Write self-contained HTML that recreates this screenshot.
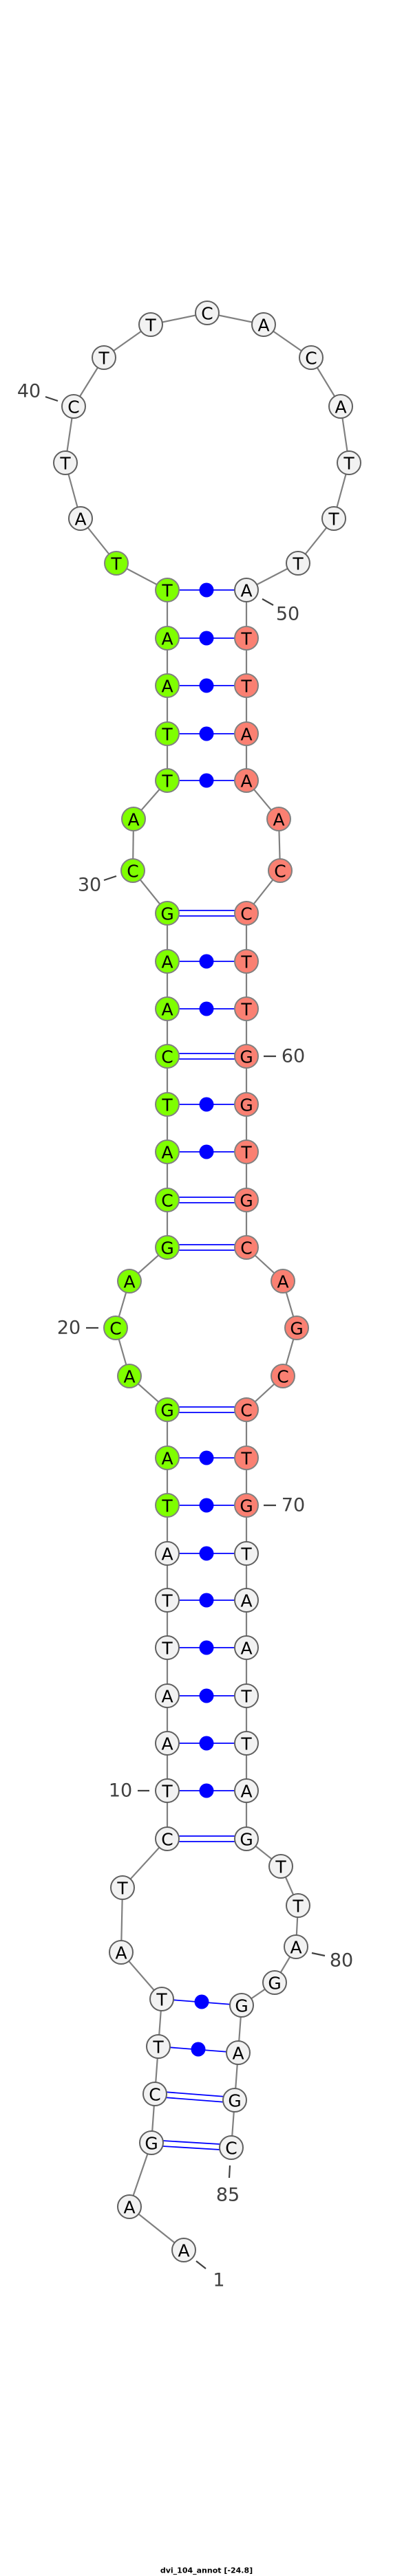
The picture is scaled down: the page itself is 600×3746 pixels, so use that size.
<!DOCTYPE html>
<html><head><meta charset="utf-8"><style>
html,body{margin:0;padding:0;background:#fff}
svg{display:block}
.n text{font-family:"DejaVu Sans","Liberation Sans",sans-serif;font-size:25px;text-anchor:middle;dominant-baseline:central;fill:#000}
.l{font-family:"DejaVu Sans","Liberation Sans",sans-serif;font-size:27px;fill:#404040;text-anchor:middle;dominant-baseline:central}
</style></head><body>
<svg width="600" height="3746" viewBox="0 0 600 3746" xmlns="http://www.w3.org/2000/svg">
<polyline fill="none" stroke="#808080" stroke-width="2.2" points="267,3272 188,3209 220,3116 225,3045 230,2976 235,2907 176,2839 178,2745 243,2674 243,2604 243,2535 243,2466 243,2396 243,2327 243,2259 243,2189 243,2120 243,2050 188,2001 168,1931 188,1863 243,1814 243,1745 243,1675 243,1606 243,1536 243,1467 243,1398 243,1328 193,1266 194,1191 243,1135 243,1067 243,997 243,928 243,858 169,819 117,754 95,673 107,591 151,520 219,472 301,455 383,472 452,520 495,591 507,673 485,754 433,819 358,858 358,928 358,997 358,1067 358,1135 405,1191 407,1266 358,1328 358,1398 358,1467 358,1536 358,1606 358,1675 358,1745 358,1814 411,1863 431,1931 411,2001 358,2050 358,2120 358,2189 358,2259 358,2327 358,2396 358,2466 358,2535 358,2604 358,2674 408,2714 433,2771 430,2831 399,2883 351,2916 346,2985 341,3054 336,3123"/>
<g stroke="#0000ff" stroke-width="1.8" fill="#0000ff">
<line x1="243" y1="858" x2="358" y2="858"/><circle cx="300" cy="858" r="10.5" stroke="none"/>
<line x1="243" y1="928" x2="358" y2="928"/><circle cx="300" cy="928" r="10.5" stroke="none"/>
<line x1="243" y1="997" x2="358" y2="997"/><circle cx="300" cy="997" r="10.5" stroke="none"/>
<line x1="243" y1="1067" x2="358" y2="1067"/><circle cx="300" cy="1067" r="10.5" stroke="none"/>
<line x1="243" y1="1135" x2="358" y2="1135"/><circle cx="300" cy="1135" r="10.5" stroke="none"/>
<line x1="243" y1="1324" x2="358" y2="1324"/><line x1="243" y1="1332" x2="358" y2="1332"/>
<line x1="243" y1="1398" x2="358" y2="1398"/><circle cx="300" cy="1398" r="10.5" stroke="none"/>
<line x1="243" y1="1467" x2="358" y2="1467"/><circle cx="300" cy="1467" r="10.5" stroke="none"/>
<line x1="243" y1="1532" x2="358" y2="1532"/><line x1="243" y1="1540" x2="358" y2="1540"/>
<line x1="243" y1="1606" x2="358" y2="1606"/><circle cx="300" cy="1606" r="10.5" stroke="none"/>
<line x1="243" y1="1675" x2="358" y2="1675"/><circle cx="300" cy="1675" r="10.5" stroke="none"/>
<line x1="243" y1="1741" x2="358" y2="1741"/><line x1="243" y1="1749" x2="358" y2="1749"/>
<line x1="243" y1="1810" x2="358" y2="1810"/><line x1="243" y1="1818" x2="358" y2="1818"/>
<line x1="243" y1="2046" x2="358" y2="2046"/><line x1="243" y1="2054" x2="358" y2="2054"/>
<line x1="243" y1="2120" x2="358" y2="2120"/><circle cx="300" cy="2120" r="10.5" stroke="none"/>
<line x1="243" y1="2189" x2="358" y2="2189"/><circle cx="300" cy="2189" r="10.5" stroke="none"/>
<line x1="243" y1="2259" x2="358" y2="2259"/><circle cx="300" cy="2259" r="10.5" stroke="none"/>
<line x1="243" y1="2327" x2="358" y2="2327"/><circle cx="300" cy="2327" r="10.5" stroke="none"/>
<line x1="243" y1="2396" x2="358" y2="2396"/><circle cx="300" cy="2396" r="10.5" stroke="none"/>
<line x1="243" y1="2466" x2="358" y2="2466"/><circle cx="300" cy="2466" r="10.5" stroke="none"/>
<line x1="243" y1="2535" x2="358" y2="2535"/><circle cx="300" cy="2535" r="10.5" stroke="none"/>
<line x1="243" y1="2604" x2="358" y2="2604"/><circle cx="300" cy="2604" r="10.5" stroke="none"/>
<line x1="243" y1="2670" x2="358" y2="2670"/><line x1="243" y1="2678" x2="358" y2="2678"/>
<line x1="235" y1="2907" x2="351" y2="2916"/><circle cx="293" cy="2911" r="10.5" stroke="none"/>
<line x1="230" y1="2976" x2="346" y2="2985"/><circle cx="288" cy="2980" r="10.5" stroke="none"/>
<line x1="225" y1="3041" x2="341" y2="3050"/><line x1="225" y1="3049" x2="341" y2="3058"/>
<line x1="220" y1="3112" x2="336" y2="3119"/><line x1="220" y1="3120" x2="336" y2="3127"/>
</g>
<g stroke="#404040" stroke-width="2.2">
<line x1="66" y1="577" x2="84" y2="583"/>
<line x1="381" y1="871" x2="397" y2="880"/>
<line x1="151" y1="1280" x2="169" y2="1274"/>
<line x1="383" y1="1536" x2="401" y2="1536"/>
<line x1="125" y1="1931" x2="143" y2="1931"/>
<line x1="383" y1="2189" x2="401" y2="2189"/>
<line x1="200" y1="2604" x2="217" y2="2604"/>
<line x1="453" y1="2840" x2="472" y2="2844"/>
<line x1="334" y1="3149" x2="333" y2="3167"/>
<line x1="285" y1="3288" x2="299" y2="3299"/>
</g>
<text class="l" x="42" y="569">40</text>
<text class="l" x="418" y="893">50</text>
<text class="l" x="130" y="1287">30</text>
<text class="l" x="426" y="1536">60</text>
<text class="l" x="100" y="1931">20</text>
<text class="l" x="426" y="2189">70</text>
<text class="l" x="175" y="2604">10</text>
<text class="l" x="496" y="2851">80</text>
<text class="l" x="331" y="3192">85</text>
<text class="l" x="318" y="3316">1</text>
<g class="n" stroke-width="2">
<g fill="#f2f2f2" stroke="#606060">
<circle cx="267" cy="3272" r="17"/><circle cx="188" cy="3209" r="17"/><circle cx="220" cy="3116" r="17"/><circle cx="225" cy="3045" r="17"/><circle cx="230" cy="2976" r="17"/><circle cx="235" cy="2907" r="17"/><circle cx="176" cy="2839" r="17"/><circle cx="178" cy="2745" r="17"/><circle cx="243" cy="2674" r="17"/><circle cx="243" cy="2604" r="17"/><circle cx="243" cy="2535" r="17"/><circle cx="243" cy="2466" r="17"/><circle cx="243" cy="2396" r="17"/><circle cx="243" cy="2327" r="17"/><circle cx="243" cy="2259" r="17"/>
<circle cx="117" cy="754" r="17"/><circle cx="95" cy="673" r="17"/><circle cx="107" cy="591" r="17"/><circle cx="151" cy="520" r="17"/><circle cx="219" cy="472" r="17"/><circle cx="301" cy="455" r="17"/><circle cx="383" cy="472" r="17"/><circle cx="452" cy="520" r="17"/><circle cx="495" cy="591" r="17"/><circle cx="507" cy="673" r="17"/><circle cx="485" cy="754" r="17"/><circle cx="433" cy="819" r="17"/><circle cx="358" cy="858" r="17"/>
<circle cx="358" cy="2259" r="17"/><circle cx="358" cy="2327" r="17"/><circle cx="358" cy="2396" r="17"/><circle cx="358" cy="2466" r="17"/><circle cx="358" cy="2535" r="17"/><circle cx="358" cy="2604" r="17"/><circle cx="358" cy="2674" r="17"/><circle cx="408" cy="2714" r="17"/><circle cx="433" cy="2771" r="17"/><circle cx="430" cy="2831" r="17"/><circle cx="399" cy="2883" r="17"/><circle cx="351" cy="2916" r="17"/><circle cx="346" cy="2985" r="17"/><circle cx="341" cy="3054" r="17"/><circle cx="336" cy="3123" r="17"/>
</g>
<g fill="#7fff00" stroke="#808080">
<circle cx="243" cy="2189" r="17"/><circle cx="243" cy="2120" r="17"/><circle cx="243" cy="2050" r="17"/><circle cx="188" cy="2001" r="17"/><circle cx="168" cy="1931" r="17"/><circle cx="188" cy="1863" r="17"/><circle cx="243" cy="1814" r="17"/><circle cx="243" cy="1745" r="17"/><circle cx="243" cy="1675" r="17"/><circle cx="243" cy="1606" r="17"/><circle cx="243" cy="1536" r="17"/><circle cx="243" cy="1467" r="17"/><circle cx="243" cy="1398" r="17"/><circle cx="243" cy="1328" r="17"/><circle cx="193" cy="1266" r="17"/><circle cx="194" cy="1191" r="17"/><circle cx="243" cy="1135" r="17"/><circle cx="243" cy="1067" r="17"/><circle cx="243" cy="997" r="17"/><circle cx="243" cy="928" r="17"/><circle cx="243" cy="858" r="17"/><circle cx="169" cy="819" r="17"/>
</g>
<g fill="#fa8072" stroke="#808080">
<circle cx="358" cy="928" r="17"/><circle cx="358" cy="997" r="17"/><circle cx="358" cy="1067" r="17"/><circle cx="358" cy="1135" r="17"/><circle cx="405" cy="1191" r="17"/><circle cx="407" cy="1266" r="17"/><circle cx="358" cy="1328" r="17"/><circle cx="358" cy="1398" r="17"/><circle cx="358" cy="1467" r="17"/><circle cx="358" cy="1536" r="17"/><circle cx="358" cy="1606" r="17"/><circle cx="358" cy="1675" r="17"/><circle cx="358" cy="1745" r="17"/><circle cx="358" cy="1814" r="17"/><circle cx="411" cy="1863" r="17"/><circle cx="431" cy="1931" r="17"/><circle cx="411" cy="2001" r="17"/><circle cx="358" cy="2050" r="17"/><circle cx="358" cy="2120" r="17"/><circle cx="358" cy="2189" r="17"/>
</g>
<text x="267" y="3273">A</text><text x="188" y="3210">A</text><text x="220" y="3117">G</text><text x="225" y="3046">C</text><text x="230" y="2977">T</text><text x="235" y="2908">T</text><text x="176" y="2840">A</text><text x="178" y="2746">T</text><text x="243" y="2675">C</text><text x="243" y="2605">T</text><text x="243" y="2536">A</text><text x="243" y="2467">A</text><text x="243" y="2397">T</text><text x="243" y="2328">T</text><text x="243" y="2260">A</text><text x="243" y="2190">T</text><text x="243" y="2121">A</text><text x="243" y="2051">G</text><text x="188" y="2002">A</text><text x="168" y="1932">C</text><text x="188" y="1864">A</text><text x="243" y="1815">G</text><text x="243" y="1746">C</text><text x="243" y="1676">A</text><text x="243" y="1607">T</text><text x="243" y="1537">C</text><text x="243" y="1468">A</text><text x="243" y="1399">A</text><text x="243" y="1329">G</text><text x="193" y="1267">C</text><text x="194" y="1192">A</text><text x="243" y="1136">T</text><text x="243" y="1068">T</text><text x="243" y="998">A</text><text x="243" y="929">A</text><text x="243" y="859">T</text><text x="169" y="820">T</text><text x="117" y="755">A</text><text x="95" y="674">T</text><text x="107" y="592">C</text><text x="151" y="521">T</text><text x="219" y="473">T</text><text x="301" y="456">C</text><text x="383" y="473">A</text><text x="452" y="521">C</text><text x="495" y="592">A</text><text x="507" y="674">T</text><text x="485" y="755">T</text><text x="433" y="820">T</text><text x="358" y="859">A</text><text x="358" y="929">T</text><text x="358" y="998">T</text><text x="358" y="1068">A</text><text x="358" y="1136">A</text><text x="405" y="1192">A</text><text x="407" y="1267">C</text><text x="358" y="1329">C</text><text x="358" y="1399">T</text><text x="358" y="1468">T</text><text x="358" y="1537">G</text><text x="358" y="1607">G</text><text x="358" y="1676">T</text><text x="358" y="1746">G</text><text x="358" y="1815">C</text><text x="411" y="1864">A</text><text x="431" y="1932">G</text><text x="411" y="2002">C</text><text x="358" y="2051">C</text><text x="358" y="2121">T</text><text x="358" y="2190">G</text><text x="358" y="2260">T</text><text x="358" y="2328">A</text><text x="358" y="2397">A</text><text x="358" y="2467">T</text><text x="358" y="2536">T</text><text x="358" y="2605">A</text><text x="358" y="2675">G</text><text x="408" y="2715">T</text><text x="433" y="2772">T</text><text x="430" y="2832">A</text><text x="399" y="2884">G</text><text x="351" y="2917">G</text><text x="346" y="2986">A</text><text x="341" y="3055">G</text><text x="336" y="3124">C</text>
</g>
<text x="300" y="3738" font-family="DejaVu Sans, Liberation Sans, sans-serif" font-size="11" font-weight="bold" text-anchor="middle" dominant-baseline="central" fill="#000">dvi_104_annot [-24.8]</text>
</svg>
</body></html>
